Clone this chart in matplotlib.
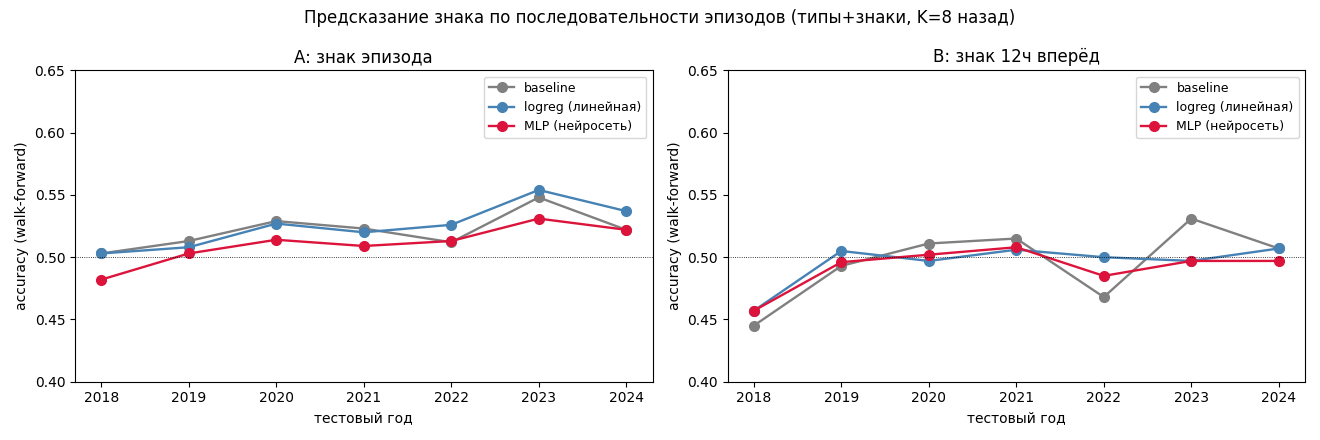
import matplotlib
matplotlib.use('Agg')
import matplotlib.pyplot as plt

years = [2018, 2019, 2020, 2021, 2022, 2023, 2024]

# A: знак эпизода
a_baseline = [0.503, 0.513, 0.529, 0.523, 0.512, 0.548, 0.522]
a_logreg = [0.503, 0.508, 0.527, 0.520, 0.526, 0.554, 0.537]
a_mlp = [0.482, 0.503, 0.514, 0.509, 0.513, 0.531, 0.522]

# B: знак 12ч вперёд
b_baseline = [0.445, 0.493, 0.511, 0.515, 0.468, 0.531, 0.507]
b_logreg = [0.457, 0.505, 0.497, 0.506, 0.500, 0.497, 0.507]
b_mlp = [0.457, 0.496, 0.502, 0.508, 0.485, 0.497, 0.497]

labels = ['baseline', 'logreg (линейная)', 'MLP (нейросеть)']
colors = ['gray', 'steelblue', 'crimson']

fig, axes = plt.subplots(1, 2, figsize=(13.2, 4.4), dpi=100)

panels = [
    ('A: знак эпизода', [a_baseline, a_logreg, a_mlp]),
    ('B: знак 12ч вперёд', [b_baseline, b_logreg, b_mlp]),
]

for ax, (title, series) in zip(axes, panels):
    for vals, lab, col in zip(series, labels, colors):
        ax.plot(years, vals, marker='o', markersize=7, linewidth=1.7, color=col, label=lab)
    ax.axhline(0.5, color='black', linestyle=':', linewidth=0.6)
    ax.set_ylim(0.40, 0.65)
    ax.set_xticks(years)
    ax.set_title(title, fontsize=12)
    ax.set_xlabel('тестовый год')
    ax.set_ylabel('accuracy (walk-forward)')
    ax.legend(loc='upper right', fontsize=9)

fig.suptitle('Предсказание знака по последовательности эпизодов (типы+знаки, K=8 назад)', fontsize=12)
fig.tight_layout()
fig.savefig('out.png', dpi=100)
